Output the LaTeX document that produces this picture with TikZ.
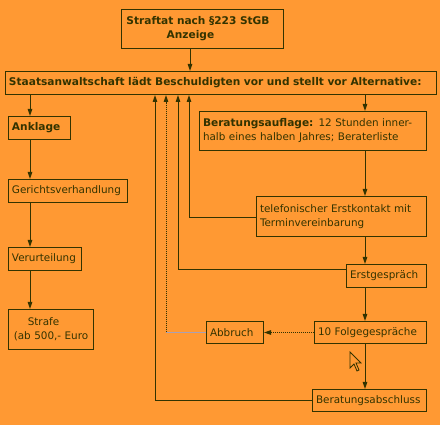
\documentclass[tikz,border=0pt]{standalone}
\usepackage{fontspec}
\setmainfont{DejaVu Sans}
\usetikzlibrary{arrows.meta,calc}
\definecolor{bg}{RGB}{255,153,51}
\definecolor{ln}{RGB}{51,51,0}
\definecolor{lilac}{RGB}{170,160,180}
\begin{document}
\begin{tikzpicture}[x=1pt,y=-1pt,
  box/.style={draw=ln, line width=1pt, anchor=north west, inner xsep=3.5pt, inner ysep=0pt,
    align=left, text=ln, font=\fontsize{10.4}{14}\selectfont},
  bbox/.style={box, font=\bfseries\fontsize{10.6}{14}\selectfont},
  arr/.style={draw=ln, line width=1pt, -{Triangle[length=7pt,width=4.5pt]}},
  dots/.style={dash pattern=on 1pt off 1pt}]
\useasboundingbox[fill=bg] (0,0) rectangle (440,425);

\node[bbox, text width=155pt, minimum height=39pt, align=center] (straf) at (121,9) {\hspace*{-9pt}Straftat nach §223 StGB\\Anzeige\hspace*{24pt}};
\node[bbox, text width=424pt, minimum height=23pt] (main) at (5,71) {Staatsanwaltschaft lädt Beschuldigten vor und stellt vor Alternative:};
\node[bbox, text width=55pt, minimum height=23pt] (ankl) at (8,116) {Anklage};
\node[box, text width=112pt, minimum height=23pt] (ger) at (8,179) {Gerichtsverhandlung};
\node[box, text width=66pt, minimum height=23pt] (ver) at (8,247) {Verurteilung};
\node[box, text width=78pt, minimum height=40pt, align=center] (strafe) at (8,309) {\hspace*{-15pt}Strafe\\(ab 500,- Euro};
\node[box, text width=220pt, minimum height=39pt] (bauf) at (199,111) {\textbf{\fontsize{10.6}{14}\selectfont Beratungsauflage:} 12 Stunden inner-\\halb eines halben Jahres; Beraterliste};
\node[box, text width=163pt, minimum height=40pt] (tel) at (256,196) {telefonischer Erstkontakt mit\\Terminvereinbarung};
\node[box, text width=73pt, minimum height=23pt] (erst) at (346,264) {Erstgespräch};
\node[box, text width=105pt, minimum height=22pt] (folge) at (314,321) {10 Folgegespräche};
\node[box, text width=50pt, minimum height=22pt] (abb) at (206,321) {Abbruch};
\node[box, text width=107pt, minimum height=22pt] (absch) at (312,389) {Beratungsabschluss};

\coordinate (x30) at (30,0);
\coordinate (x190) at (190,0);
\coordinate (x365) at (365,0);
\coordinate (x155) at (155,0);
\coordinate (x166) at (166,0);
\coordinate (x178) at (178,0);
\coordinate (x189) at (189,0);

\draw[arr] (straf.south -| x190) -- (main.north -| x190);
\draw[arr] (main.south -| x30) -- (ankl.north -| x30);
\draw[arr] (ankl.south -| x30) -- (ger.north -| x30);
\draw[arr] (ger.south -| x30) -- (ver.north -| x30);
\draw[arr] (ver.south -| x30) -- (strafe.north -| x30);
\draw[arr] (main.south -| x365) -- (bauf.north -| x365);
\draw[arr] (bauf.south -| x365) -- (tel.north -| x365);
\draw[arr] (tel.south -| x365) -- (erst.north -| x365);
\draw[arr] (erst.south -| x365) -- (folge.north -| x365);
\draw[arr] (folge.south -| x365) -- (absch.north -| x365);
\draw[arr] ($(tel.north west)+(0,22)$) -| (main.south -| x189);
\draw[arr] ($(erst.north west)+(0,6)$) -| (main.south -| x178);
\draw[arr] (absch.west) -| (main.south -| x155);
\draw[arr,dots] (folge.west) -- (abb.east);
\draw[lilac, line width=1pt] (abb.west) -- (abb.west -| x166) coordinate (k);
\draw[arr,dots] (k) -- (main.south -| x166);

\draw[ln, fill=bg, line width=0.8pt, line join=miter] (350,352) -- (350,368) -- (354,364) -- (357,371) -- (359,370) -- (356,363) -- (361,363) -- cycle;
\end{tikzpicture}
\end{document}
